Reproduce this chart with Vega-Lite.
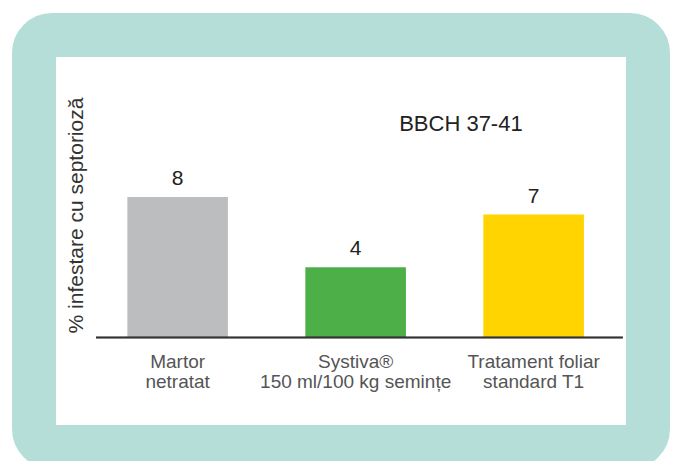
{
  "$schema": "https://vega.github.io/schema/vega-lite/v6.json",
  "autosize": {"type": "none"},
  "width": 614,
  "height": 412,
  "padding": {"left": 34, "top": 35, "right": 25, "bottom": 14},
  "background": "white",
  "config": {
    "view": {"fill": "white", "stroke": "#b6ded8", "strokeWidth": 44, "cornerRadius": 18},
    "font": "Liberation Sans"
  },
  "data": {
    "values": [
      {"cat": "Martor|netratat", "v": 8},
      {"cat": "Systiva®|150 ml/100 kg semințe", "v": 4},
      {"cat": "Tratament foliar|standard T1", "v": 7}
    ]
  },
  "layer": [
    {
      "mark": {"type": "bar"},
      "encoding": {
        "x": {
          "field": "cat",
          "type": "nominal",
          "sort": null,
          "scale": {
            "domain": ["Martor|netratat", "Systiva®|150 ml/100 kg semințe", "Tratament foliar|standard T1"],
            "paddingInner": 0.435,
            "paddingOuter": 0.4422,
            "align": 0.593
          },
          "axis": {
            "title": null,
            "domain": false,
            "ticks": false,
            "tickSize": 0,
            "labelAngle": 0,
            "labelLimit": 0,
            "labelExpr": "split(datum.value, '|')",
            "labelFontSize": 19,
            "labelColor": "#555555",
            "labelLineHeight": 19.5,
            "labelBaseline": "alphabetic",
            "labelPadding": 30,
            "offset": -109.5,
            "labelFont": "Liberation Sans"
          }
        },
        "y": {
          "field": "v",
          "type": "quantitative",
          "scale": {"domain": [-6.23, 17.22], "nice": false, "zero": false},
          "axis": {
            "title": "% infestare cu septorioză",
            "domain": false,
            "ticks": false,
            "labels": false,
            "grid": false,
            "titleX": 48,
            "titleY": 180,
            "titleAngle": -90,
            "titleBaseline": "alphabetic",
            "titleAlign": "center",
            "titleFontSize": 21,
            "titleFontWeight": "normal",
            "titleColor": "#333333",
            "titleFont": "Liberation Sans"
          }
        },
        "y2": {"datum": 0},
        "color": {
          "field": "cat",
          "type": "nominal",
          "scale": {
            "domain": ["Martor|netratat", "Systiva®|150 ml/100 kg semințe", "Tratament foliar|standard T1"],
            "range": ["#bcbdbf", "#4caf48", "#ffd400"]
          },
          "legend": null
        }
      }
    },
    {
      "mark": {"type": "text", "dy": -12, "baseline": "alphabetic", "fontSize": 21, "color": "#222222"},
      "encoding": {
        "x": {"field": "cat", "type": "nominal", "sort": null},
        "y": {"field": "v", "type": "quantitative"},
        "text": {"field": "v", "type": "quantitative"}
      }
    },
    {
      "data": {"values": [{"t": "BBCH 37-41"}]},
      "mark": {"type": "text", "align": "right", "baseline": "alphabetic", "fontSize": 22, "color": "#222222"},
      "encoding": {
        "x": {"datum": "Tratament foliar|standard T1", "type": "nominal", "bandPosition": 0.391},
        "y": {"datum": 11.75, "type": "quantitative"},
        "text": {"field": "t", "type": "nominal"}
      }
    },
    {
      "mark": {"type": "rule", "color": "#333333", "strokeWidth": 1.5},
      "encoding": {
        "x": {"datum": "Martor|netratat", "type": "nominal", "bandPosition": -0.311},
        "x2": {"datum": "Tratament foliar|standard T1", "bandPosition": 1.386},
        "y": {"datum": 0, "type": "quantitative"}
      }
    }
  ]
}
